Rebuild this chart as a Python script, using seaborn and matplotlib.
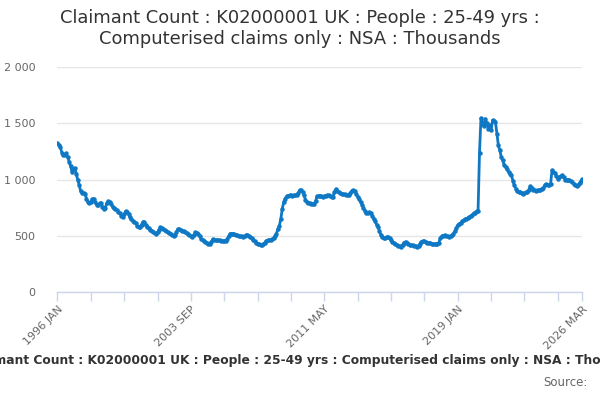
import numpy as np
import pandas as pd
import matplotlib
matplotlib.use("Agg")
import matplotlib.pyplot as plt
import seaborn as sns
from matplotlib.ticker import FuncFormatter

# ---- data (thousands), monthly ----
y1996 = [1324, 1310, 1285, 1240, 1215, 1220, 1232, 1200, 1160, 1120, 1070, 1097]
y1997 = [1100, 1050, 995, 950, 895, 880, 880, 870, 830, 800, 790, 800]
y1998 = [825, 831, 800, 775, 770, 787, 787, 760, 742, 750, 790, 807]
y1999 = [800, 780, 757, 745, 735, 725, 712, 700, 680, 668, 690, 718]
y2000 = [715, 690, 665, 645, 635, 620, 610, 590, 579, 580, 600, 624]
y2001 = [620, 600, 580, 565, 555, 545, 535, 525, 520, 530, 555, 574]
y2002 = [570, 560, 550, 540, 530, 525, 520, 510, 500, 505, 530, 560]
y2003 = [558, 550, 545, 540, 535, 525, 515, 505, 495, 490, 505, 530]
y2004 = [528, 515, 495, 475, 461, 455, 445, 435, 426, 430, 445, 467]
y2005 = [466, 462, 460, 458, 458, 456, 455, 455, 456, 470, 495, 518]
y2006 = [520, 515, 512, 508, 505, 500, 497, 495, 492, 495, 505, 508]
y2007 = [500, 488, 476, 465, 452, 440, 430, 426, 420, 417, 425, 440]
y2008 = [455, 458, 461, 462, 470, 480, 500, 520, 560, 590, 650, 740]
y2009 = [800, 830, 851, 855, 858, 858, 857, 860, 858, 862, 880, 905]
y2010 = [905, 890, 860, 820, 801, 795, 790, 785, 781, 785, 810, 851]
y2011 = [855, 852, 850, 848, 851, 855, 858, 860, 855, 848, 845, 890]
y2012 = [914, 900, 885, 878, 875, 870, 868, 865, 860, 862, 880, 900]
y2013 = [905, 895, 870, 845, 825, 800, 775, 750, 720, 698, 700, 707]
y2014 = [700, 680, 650, 630, 600, 579, 545, 506, 490, 476, 480, 490]
y2015 = [491, 480, 462, 446, 438, 430, 420, 412, 405, 402, 420, 440]
y2016 = [446, 440, 430, 420, 417, 415, 412, 408, 402, 410, 430, 448]
y2017 = [452, 450, 445, 440, 438, 435, 430, 428, 426, 428, 430, 440]
y2018 = [480, 495, 500, 506, 500, 495, 491, 495, 505, 520, 540, 570]
y2019 = [594, 605, 615, 630, 638, 645, 652, 660, 668, 675, 685, 698]
y2020 = [705, 718, 720, 1240, 1546, 1500, 1472, 1540, 1500, 1452, 1481, 1437]
y2021 = [1526, 1520, 1511, 1408, 1304, 1260, 1200, 1171, 1130, 1111, 1090, 1067]
y2022 = [1050, 1038, 990, 950, 920, 899, 890, 885, 878, 875, 880, 885]
y2023 = [890, 910, 940, 925, 911, 905, 900, 905, 905, 910, 920, 925]
y2024 = [950, 958, 955, 949, 960, 1082, 1070, 1058, 1030, 1008, 1020, 1030]
y2025 = [1038, 1020, 1000, 998, 995, 993, 985, 975, 964, 955, 940, 950]
y2026 = [970, 985, 1002]

values = (y1996 + y1997 + y1998 + y1999 + y2000 + y2001 + y2002 + y2003 + y2004
          + y2005 + y2006 + y2007 + y2008 + y2009 + y2010 + y2011 + y2012 + y2013
          + y2014 + y2015 + y2016 + y2017 + y2018 + y2019 + y2020 + y2021 + y2022
          + y2023 + y2024 + y2025 + y2026)

dates = pd.date_range("1996-01-01", periods=len(values), freq="MS")
labels = [d.strftime("%Y %b").upper() for d in dates]
df = pd.DataFrame({"idx": np.arange(len(values)), "value": values, "label": labels})

title = "Claimant Count : K02000001 UK : People : 25-49 yrs :\nComputerised claims only : NSA : Thousands"
caption = "Claimant Count : K02000001 UK : People : 25-49 yrs : Computerised claims only : NSA : Thousands"

# ---- drawing ----
sns.set_theme(style="white")
plt.rcParams["font.family"] = ["DejaVu Sans"]

fig = plt.figure(figsize=(6, 4), dpi=100)
ax = fig.add_axes([0.0958, 0.27, 0.875, 0.5625])

line_color = "#0e78c4"
sns.lineplot(data=df, x="idx", y="value", ax=ax, color=line_color, linewidth=2,
             marker="o", markersize=3.2, markeredgewidth=0, markeredgecolor=line_color)

n = len(values)
ax.set_xlim(0, n - 1)
ax.set_ylim(0, 2000)
ax.set_yticks([0, 500, 1000, 1500, 2000])
ax.yaxis.set_major_formatter(FuncFormatter(lambda v, p: f"{int(v):,}".replace(",", " ")))
ax.grid(axis="y", color="#e6e6e6", linewidth=1)
ax.set_axisbelow(True)

minor_pos = list(range(0, n - 1, 23)) + [n - 1]
major_pos = [0, 92, 184, 276, n - 1]
ax.set_xticks(minor_pos, minor=True)
ax.set_xticks(major_pos)
ax.set_xticklabels([labels[i] for i in major_pos], rotation=45, ha="right",
                   va="top", rotation_mode="anchor", color="#666666", fontsize=8)
ax.tick_params(axis="x", which="both", length=6.5, width=1, color="#ccd6eb",
               direction="out", bottom=True, pad=2.2)
ax.tick_params(axis="y", length=0, labelsize=8, labelcolor="#666666", pad=16)
for lab in ax.get_yticklabels():
    lab.set_horizontalalignment("right")

for s in ["top", "right", "left"]:
    ax.spines[s].set_visible(False)
ax.spines["bottom"].set_color("#ccd6eb")
ax.spines["bottom"].set_linewidth(1)
ax.set_xlabel("")
ax.set_ylabel("")

fig.text(0.5, 0.978, title, ha="center", va="top", fontsize=12.9, color="#333333",
         linespacing=1.2)
fig.text(0.515, 0.098, caption, ha="center", va="center", fontsize=8.8,
         fontweight="bold", color="#333333")
fig.text(0.98, 0.043, "Source:", ha="right", va="center", fontsize=8.5,
         color="#666666")

fig.savefig("out.png", dpi=100)
